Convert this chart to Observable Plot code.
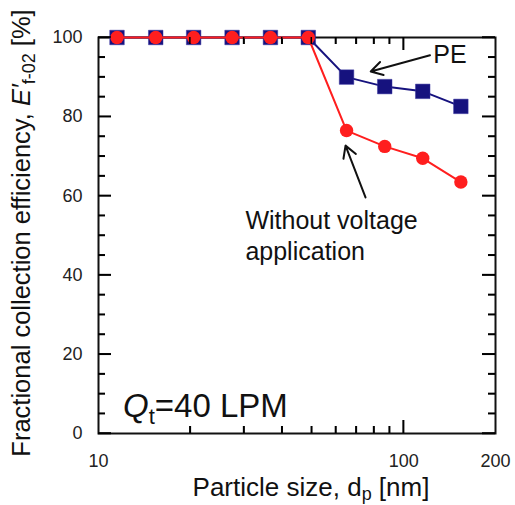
<!DOCTYPE html>
<html><head><meta charset="utf-8">
<script src="https://cdn.jsdelivr.net/npm/d3@7"></script>
<script src="https://cdn.jsdelivr.net/npm/@observablehq/plot@0.6"></script>
<style>body{margin:0;background:#fff}</style>
</head><body><div id="chart"></div>
<script>
// Data
const particleSize = [11.5, 15.4, 20.5, 27.4, 36.6, 48.7, 65, 86.7, 115.5, 154];
const peEfficiency = [100, 100, 100, 100, 100, 100, 90, 87.6, 86.4, 82.6];
const noVoltageEfficiency = [100, 100, 100, 100, 100, 100, 76.5, 72.5, 69.5, 63.5];

// Tick values
const yMajorTicks = [0, 20, 40, 60, 80, 100];
const yMinorTicks = [5, 10, 15, 25, 30, 35, 45, 50, 55, 65, 70, 75, 85, 90, 95];
const xMajorTicks = [100];
const xMinorTicks = [20, 30, 40, 50, 60, 70, 80, 90];
const xTickLabels = [10, 100, 200];

// Annotations (data coordinates)
const peLabel = [{x: 125, y: 95.5, text: "PE"}];
const peArrow = [{x1: 122, y1: 95.5, x2: 78, y2: 91.4}];
const nvLabel = [{x: 30.3, y: 50.3, text: "Without voltage\napplication"}];
const nvArrow = [{x1: 75, y1: 59.6, x2: 64.5, y2: 72.7}];

const rows = particleSize.map((s, i) => ({size: s, pe: peEfficiency[i], nv: noVoltageEfficiency[i]}));

const font = "'Liberation Sans', Arial, Helvetica, sans-serif";
const blue = "#16127e";
const red = "#ff1e1e";
const W = 515, H = 505, mL = 98, mR = 20, mT = 37, mB = 72;
const innerW = W - mL - mR, innerH = H - mT - mB;
const minorLen = 7, majorLen = 13;
const tickStyle = {stroke: "#000", strokeWidth: 1.5};

const plot = Plot.plot({
  width: W,
  height: H,
  marginLeft: mL,
  marginRight: mR,
  marginTop: mT,
  marginBottom: mB,
  style: {fontFamily: font, background: "#fff", color: "#000"},
  x: {type: "log", domain: [10, 200], axis: null},
  y: {domain: [0, 100], axis: null},
  marks: [
    Plot.frame({stroke: "#111", fill: "none", strokeWidth: 2}),
    // inward tick marks on all four sides
    Plot.tickY(yMinorTicks, {...tickStyle, insetRight: innerW - minorLen}),
    Plot.tickY(yMinorTicks, {...tickStyle, insetLeft: innerW - minorLen}),
    Plot.tickY(yMajorTicks, {...tickStyle, insetRight: innerW - majorLen}),
    Plot.tickY(yMajorTicks, {...tickStyle, insetLeft: innerW - majorLen}),
    Plot.tickX(xMinorTicks, {...tickStyle, insetTop: innerH - minorLen}),
    Plot.tickX(xMinorTicks, {...tickStyle, insetBottom: innerH - minorLen}),
    Plot.tickX(xMajorTicks, {...tickStyle, insetTop: innerH - majorLen}),
    Plot.tickX(xMajorTicks, {...tickStyle, insetBottom: innerH - majorLen}),
    // tick labels
    Plot.axisY(yMajorTicks, {anchor: "left", tickSize: 0, tickPadding: 16, fontSize: 18, label: null, fill: "#222"}),
    Plot.axisX(xTickLabels, {anchor: "bottom", tickSize: 0, tickPadding: 21, fontSize: 18, label: null, fill: "#222", tickFormat: d => String(d)}),
    Plot.line(rows, {x: "size", y: "pe", stroke: blue, strokeWidth: 2}),
    Plot.dot(rows, {x: "size", y: "pe", symbol: "square", r: 8.2, fill: blue, stroke: "#3a36a0", strokeWidth: 0.5}),
    Plot.line(rows, {x: "size", y: "nv", stroke: red, strokeWidth: 2}),
    Plot.dot(rows, {x: "size", y: "nv", symbol: "circle", r: 6.7, fill: red}),
    Plot.arrow(peArrow, {x1: "x1", y1: "y1", x2: "x2", y2: "y2", stroke: "#111", strokeWidth: 2, headLength: 10}),
    Plot.arrow(nvArrow, {x1: "x1", y1: "y1", x2: "x2", y2: "y2", stroke: "#111", strokeWidth: 2, headLength: 10}),
    Plot.text(peLabel, {x: "x", y: "y", text: "text", textAnchor: "start", lineAnchor: "middle", fontSize: 25, fill: "#111"}),
    Plot.text(nvLabel, {x: "x", y: "y", text: "text", textAnchor: "start", lineAnchor: "middle", fontSize: 25, lineHeight: 1.25, fill: "#111"})
  ]
});

const svg = d3.select(plot);

// Inward ticks again via the plot's own scales (safety layer)
const xs = plot.scale("x"), ys = plot.scale("y");
const xL = xs.apply(10), xR = xs.apply(200), yB = ys.apply(0), yT = ys.apply(100);
const tg = svg.append("g").attr("stroke", "#000").attr("stroke-width", 1.5);
function yTicks(vals, len) {
  vals.forEach(v => {
    const y = ys.apply(v);
    tg.append("line").attr("x1", xL).attr("x2", xL + len).attr("y1", y).attr("y2", y);
    tg.append("line").attr("x1", xR - len).attr("x2", xR).attr("y1", y).attr("y2", y);
  });
}
function xTicks(vals, len) {
  vals.forEach(v => {
    const x = xs.apply(v);
    tg.append("line").attr("x1", x).attr("x2", x).attr("y1", yB).attr("y2", yB - len);
    tg.append("line").attr("x1", x).attr("x2", x).attr("y1", yT).attr("y2", yT + len);
  });
}
yTicks(yMinorTicks, minorLen);
yTicks(yMajorTicks, majorLen);
xTicks(xMinorTicks, minorLen);
xTicks(xMajorTicks, majorLen);

// Y axis title
const yt = svg.append("text")
  .attr("transform", "translate(30,233) rotate(-90)")
  .attr("text-anchor", "middle")
  .attr("font-family", font).attr("font-size", 25.5).attr("fill", "#111");
yt.append("tspan").text("Fractional collection efficiency, ");
yt.append("tspan").attr("font-style", "italic").text("E′");
yt.append("tspan").attr("font-size", 18).attr("dy", 5).text("f-02");
yt.append("tspan").attr("dy", -5).text(" [%]");

// X axis title
const xt = svg.append("text")
  .attr("x", 311).attr("y", 496)
  .attr("text-anchor", "middle")
  .attr("font-family", font).attr("font-size", 26).attr("fill", "#111");
xt.append("tspan").text("Particle size, d");
xt.append("tspan").attr("font-size", 18).attr("dy", 4).text("p");
xt.append("tspan").attr("dy", -4).text(" [nm]");

// Flow rate label
const qt = svg.append("text")
  .attr("x", 123).attr("y", 417)
  .attr("text-anchor", "start")
  .attr("font-family", font).attr("font-size", 33).attr("fill", "#111");
qt.append("tspan").attr("font-style", "italic").text("Q");
qt.append("tspan").attr("font-size", 22).attr("dy", 7).text("t");
qt.append("tspan").attr("dy", -7).text("=40 LPM");

document.getElementById("chart").appendChild(plot);
</script>
</body></html>
